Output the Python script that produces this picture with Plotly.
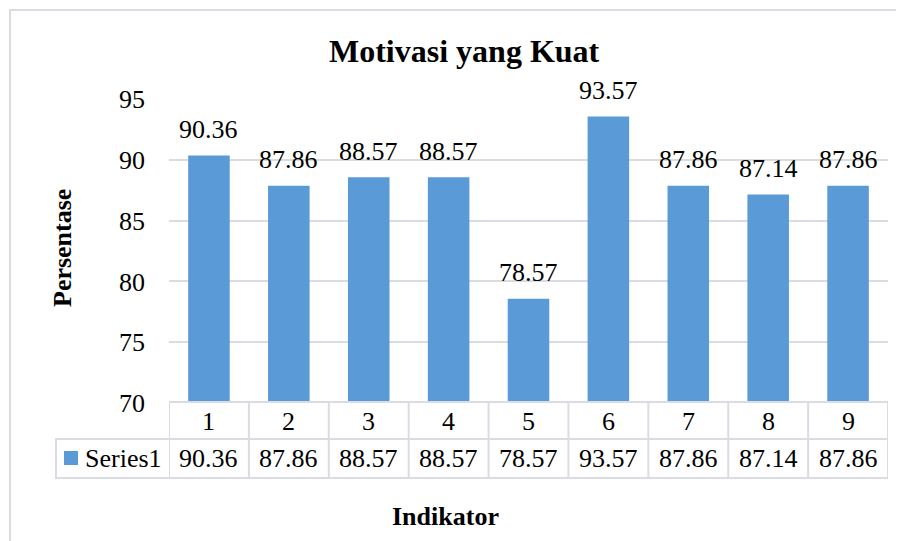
import plotly.graph_objects as go

categories = [1, 2, 3, 4, 5, 6, 7, 8, 9]
values = [90.36, 87.86, 88.57, 88.57, 78.57, 93.57, 87.86, 87.14, 87.86]
value_labels = ["90.36", "87.86", "88.57", "88.57", "78.57", "93.57", "87.86", "87.14", "87.86"]
series_name = "Series1"
y_ticks = [70, 75, 80, 85, 90, 95]

# page body margin offset
O = 8
W, H = 904 - O, 541 - O
L, R, T, B = 169 - O, 16, 99 - O, 138
PW = W - L - R
PH = H - T - B

def px(xp):
    return (xp - O - L) / PW

def py(yp):
    return (H - B - (yp - O)) / PH

FONT = "Liberation Serif, Times New Roman, serif"
LINE = "#D9DCE3"
BAR = "#5A9AD6"

fig = go.Figure()
fig.add_trace(go.Bar(x=categories, y=values, marker=dict(color=BAR, line=dict(width=0)),
                     width=0.52, name=series_name, showlegend=False))

annotations = []
# data labels
for c, v, t in zip(categories, values, value_labels):
    annotations.append(dict(x=c, y=v, xref="x", yref="y", text=t, showarrow=False,
                            yanchor="middle", yshift=26, font=dict(family=FONT, size=26, color="#000")))

# table text
for c, t in zip(categories, value_labels):
    annotations.append(dict(x=c, y=py(421), xref="x", yref="paper", text=str(c), showarrow=False,
                            yanchor="middle", font=dict(family=FONT, size=26, color="#000")))
    annotations.append(dict(x=c, y=py(458), xref="x", yref="paper", text=t, showarrow=False,
                            yanchor="middle", font=dict(family=FONT, size=26, color="#000")))
annotations.append(dict(x=px(83), y=py(458), xref="paper", yref="paper", text=series_name,
                        showarrow=False, xanchor="left", yanchor="middle",
                        font=dict(family=FONT, size=26, color="#000")))

# titles
annotations.append(dict(x=px(464), y=py(51), xref="paper", yref="paper", text="<b>Motivasi yang Kuat</b>",
                        showarrow=False, yanchor="middle", font=dict(family=FONT, size=32, color="#000")))
annotations.append(dict(x=px(445), y=py(516), xref="paper", yref="paper", text="<b>Indikator</b>",
                        showarrow=False, yanchor="middle", font=dict(family=FONT, size=26, color="#000")))
annotations.append(dict(x=px(62), y=py(248), xref="paper", yref="paper", text="<b>Persentase</b>",
                        showarrow=False, textangle=-90, xanchor="center", yanchor="middle",
                        font=dict(family=FONT, size=26, color="#000")))

shapes = []
# outer border
shapes.append(dict(type="rect", xref="paper", yref="paper", x0=px(10), x1=px(920), y0=py(560), y1=py(10),
                   line=dict(color=LINE, width=2), layer="below"))
# table lines
x_lo, x_hi = categories[0] - 0.5, categories[-1] + 0.5
shapes.append(dict(type="line", xref="x", yref="paper", x0=x_lo, x1=x_hi, y0=py(402), y1=py(402),
                   line=dict(color=LINE, width=2)))
for yy in (439, 478):
    shapes.append(dict(type="line", xref="paper", yref="paper", x0=px(55), x1=1, y0=py(yy), y1=py(yy),
                       line=dict(color=LINE, width=2)))
shapes.append(dict(type="line", xref="paper", yref="paper", x0=px(56), x1=px(56), y0=py(439), y1=py(478),
                   line=dict(color=LINE, width=2)))
for i in range(len(categories) + 1):
    xv = x_lo + i
    shapes.append(dict(type="line", xref="x", yref="paper", x0=xv, x1=xv, y0=py(402), y1=py(478),
                       line=dict(color=LINE, width=2)))
# legend key
shapes.append(dict(type="rect", xref="paper", yref="paper", x0=px(64), x1=px(78), y0=py(465), y1=py(451),
                   fillcolor=BAR, line=dict(width=0)))

fig.update_layout(
    width=W, height=H,
    margin=dict(l=L, r=R, t=T, b=B, pad=0),
    paper_bgcolor="white", plot_bgcolor="white",
    font=dict(family=FONT, size=26, color="#000"),
    xaxis=dict(range=[x_lo, x_hi], showticklabels=False, showgrid=False, zeroline=False,
               showline=False, ticks=""),
    yaxis=dict(range=[y_ticks[0], y_ticks[-1]], tickvals=y_ticks, showgrid=True, gridcolor=LINE,
               gridwidth=2, zeroline=False, showline=False, ticks="", ticklabelstandoff=23,
               tickfont=dict(family=FONT, size=26, color="#000")),
    annotations=annotations,
    shapes=shapes,
    showlegend=False,
)

fig.write_html("out.html")
